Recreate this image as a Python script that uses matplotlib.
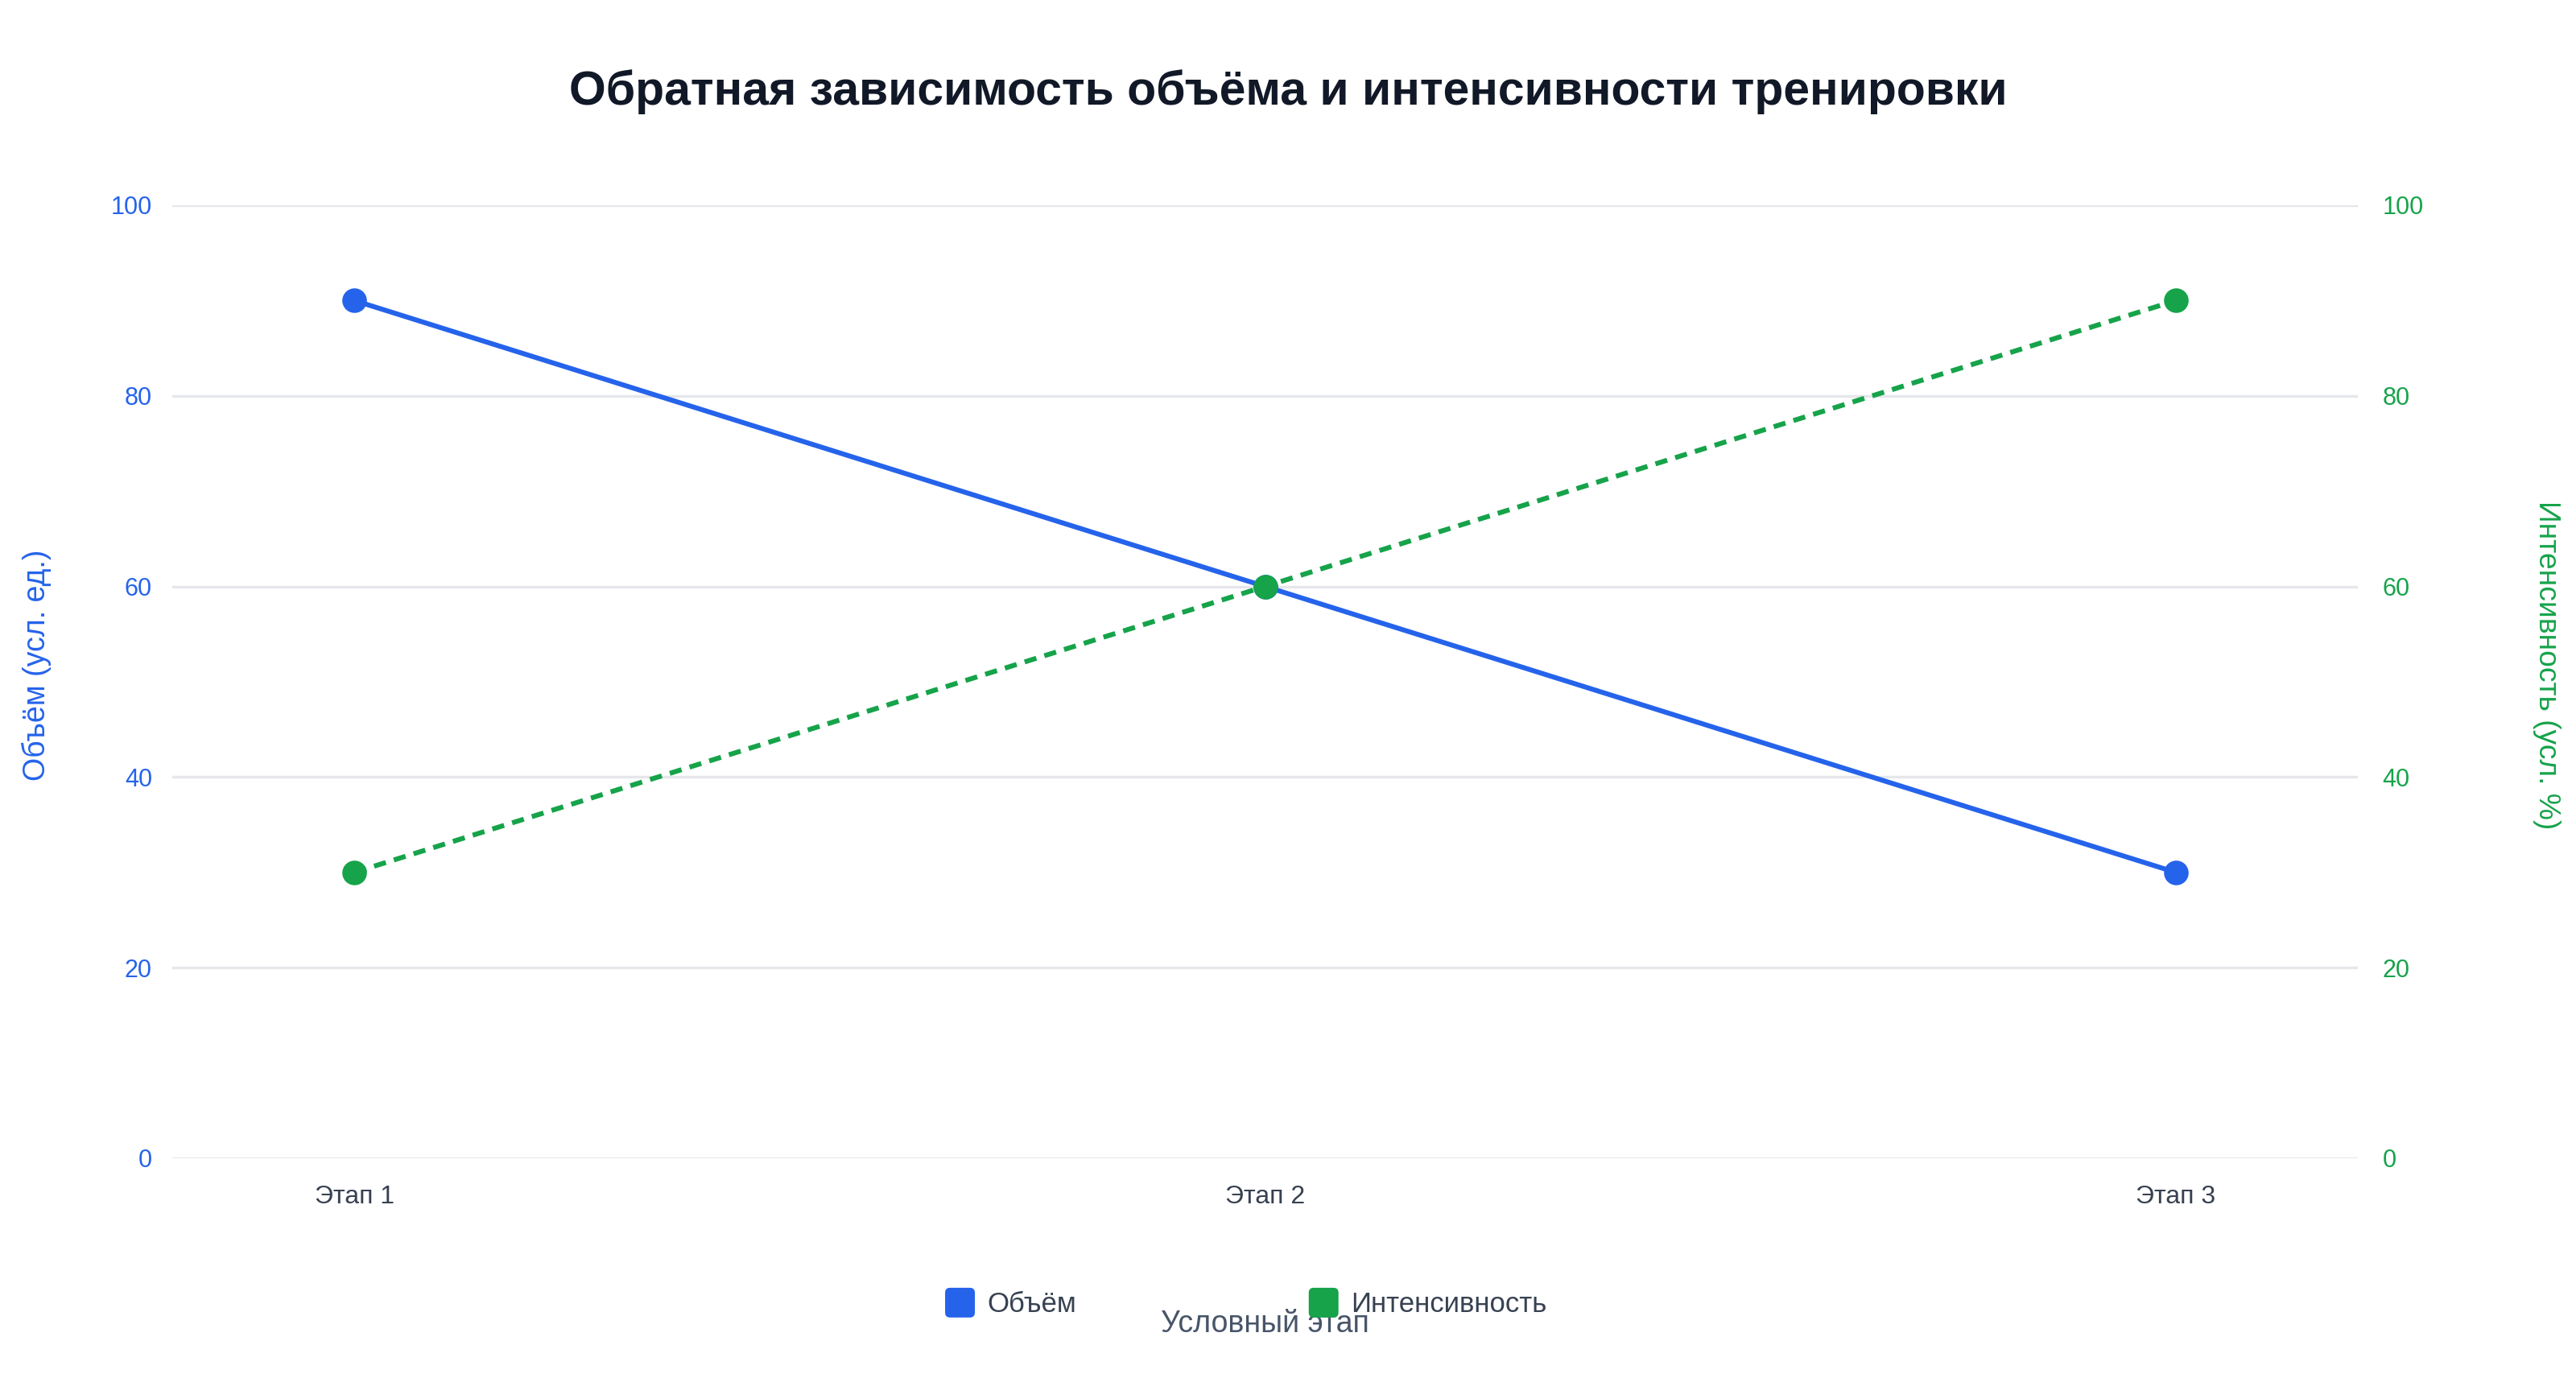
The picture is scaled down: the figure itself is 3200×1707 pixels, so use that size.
import matplotlib
matplotlib.use("Agg")
import matplotlib.pyplot as plt
from matplotlib.patches import Patch, FancyBboxPatch
from matplotlib.legend_handler import HandlerPatch

stages = ["Этап 1", "Этап 2", "Этап 3"]
volume = [90, 60, 30]
intensity = [30, 60, 90]
yticks = [0, 20, 40, 60, 80, 100]

BLUE = "#2563EB"
GREEN = "#16A34A"
GRID = "#E5E7EB"
TEXT = "#374151"
TITLE = "#111827"

plt.rcParams['font.family'] = ['Liberation Sans', 'DejaVu Sans']


class RoundSquare(HandlerPatch):
    def create_artists(self, legend, orig_handle, xdescent, ydescent, width, height, fontsize, trans):
        s = 13.3
        cx = -xdescent + width / 2
        cy = -ydescent + height / 2
        p = FancyBboxPatch((cx - s / 2, cy - s / 2), s, s,
                           boxstyle="round,pad=0,rounding_size=2.2",
                           fc=orig_handle.get_facecolor(), ec='none', transform=trans)
        return [p]


W, H = 3200, 1707
fig = plt.figure(figsize=(16, H / 200), dpi=200)
left, right, top, bottom = 214 / W, 2929 / W, 255 / H, 1439 / H
ax = fig.add_axes([left, 1 - bottom, right - left, bottom - top])
ax2 = ax.twinx()

x = list(range(len(stages)))
ax.plot(x, volume, color=BLUE, lw=2.2, marker='o', ms=10, zorder=3, clip_on=False)
ax2.plot(x, intensity, color=GREEN, lw=2.2, ls=(0, (2.5, 1.7)), dash_capstyle='butt',
         marker='o', ms=10, zorder=3, clip_on=False)

for a in (ax, ax2):
    a.set_ylim(0, 100)
    a.set_yticks(yticks)
    for s in a.spines.values():
        s.set_visible(False)
    a.tick_params(length=0)
ax.set_xlim(-0.2, 2.2)
ax.set_xticks(x)
ax.set_xticklabels(stages, fontsize=11.5, color=TEXT)
ax.tick_params(axis='x', pad=12)
ax.tick_params(axis='y', labelsize=11, labelcolor=BLUE, pad=9)
ax2.tick_params(axis='y', labelsize=11, labelcolor=GREEN, pad=11)
ax.grid(axis='y', color=GRID, lw=1.2)
ax.set_axisbelow(True)

fig.text(0.5, 1 - 114 / H, "Обратная зависимость объёма и интенсивности тренировки",
         ha='center', va='center', fontsize=21.2, fontweight='bold', color=TITLE)
fig.text(45 / W, 1 - 826 / H, "Объём (усл. ед.)", rotation=90, ha='center', va='center',
         fontsize=13.5, color=BLUE)
fig.text(3163 / W, 1 - 826 / H, "Интенсивность (усл. %)", rotation=270, ha='center', va='center',
         fontsize=13.4, color=GREEN)
fig.text((left + right) / 2, 1 - 1645 / H, "Условный этап", ha='center', va='center',
         fontsize=13.5, color="#475569")

handles = [Patch(facecolor=BLUE), Patch(facecolor=GREEN)]
fig.legend(handles, ["Объём", "Интенсивность"], loc='center', bbox_to_anchor=(0.4838, 1 - 1621 / H),
           ncol=2, frameon=False, fontsize=12.5, labelcolor=TEXT, columnspacing=8.35,
           handletextpad=0.47, handlelength=1.0,
           handler_map={Patch: RoundSquare()})

fig.savefig("out.png", dpi=200, facecolor='white')
